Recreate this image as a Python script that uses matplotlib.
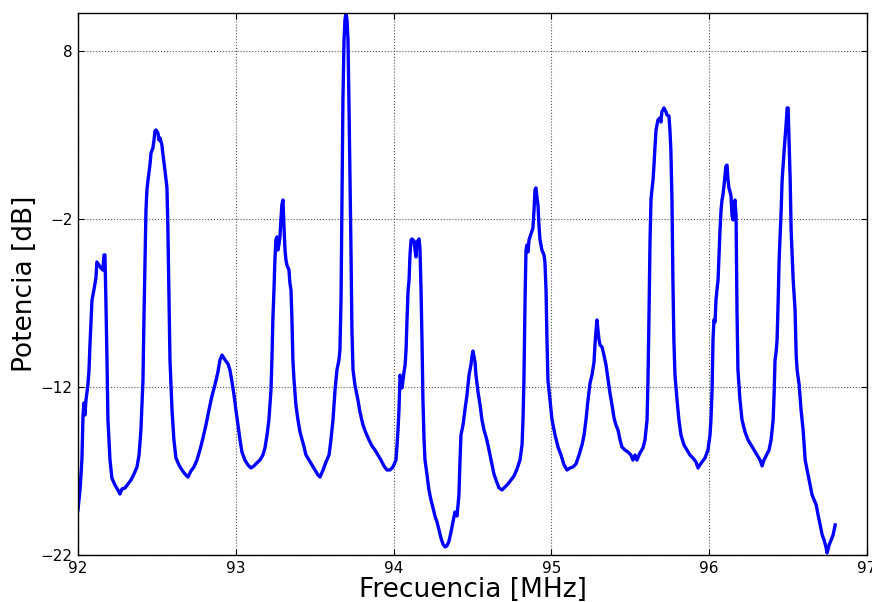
import matplotlib
matplotlib.use("Agg")
import matplotlib.pyplot as plt

freq_mhz = [
    92.000, 92.013, 92.025, 92.032, 92.038, 92.044, 92.051, 92.063, 92.070, 92.076,
    92.082, 92.089, 92.101, 92.114, 92.120, 92.133, 92.146, 92.158, 92.165, 92.171,
    92.177, 92.184, 92.190, 92.203, 92.215, 92.234, 92.253, 92.266, 92.279, 92.298,
    92.317, 92.336, 92.355, 92.374, 92.387, 92.399, 92.412, 92.418, 92.425, 92.431,
    92.437, 92.444, 92.456, 92.463, 92.475, 92.482, 92.488, 92.494, 92.507, 92.513,
    92.520, 92.532, 92.539, 92.551, 92.558, 92.564, 92.570, 92.577, 92.583, 92.596,
    92.608, 92.621, 92.640, 92.659, 92.678, 92.697, 92.716, 92.735, 92.754, 92.773,
    92.792, 92.811, 92.830, 92.849, 92.868, 92.887, 92.900, 92.913, 92.932, 92.951,
    92.963, 92.976, 92.989, 93.001, 93.014, 93.027, 93.039, 93.058, 93.077, 93.096,
    93.115, 93.134, 93.153, 93.172, 93.185, 93.198, 93.210, 93.223, 93.229, 93.235,
    93.242, 93.248, 93.254, 93.261, 93.267, 93.273, 93.280, 93.286, 93.292, 93.299,
    93.305, 93.312, 93.318, 93.324, 93.337, 93.343, 93.350, 93.356, 93.362, 93.369,
    93.381, 93.394, 93.407, 93.426, 93.445, 93.464, 93.483, 93.502, 93.521, 93.534,
    93.553, 93.572, 93.591, 93.603, 93.616, 93.629, 93.641, 93.654, 93.660, 93.667,
    93.673, 93.679, 93.686, 93.692, 93.698, 93.705, 93.711, 93.717, 93.724, 93.730,
    93.736, 93.743, 93.755, 93.774, 93.787, 93.806, 93.825, 93.844, 93.863, 93.882,
    93.901, 93.920, 93.939, 93.958, 93.977, 93.996, 94.015, 94.022, 94.028, 94.034,
    94.041, 94.047, 94.053, 94.060, 94.066, 94.073, 94.079, 94.085, 94.092, 94.098,
    94.104, 94.111, 94.117, 94.130, 94.136, 94.142, 94.149, 94.161, 94.167, 94.174,
    94.180, 94.186, 94.193, 94.199, 94.212, 94.224, 94.237, 94.250, 94.262, 94.275,
    94.288, 94.300, 94.313, 94.326, 94.338, 94.351, 94.364, 94.376, 94.389, 94.402,
    94.414, 94.421, 94.427, 94.440, 94.452, 94.465, 94.478, 94.490, 94.497, 94.503,
    94.516, 94.522, 94.535, 94.548, 94.560, 94.573, 94.586, 94.598, 94.611, 94.624,
    94.636, 94.649, 94.668, 94.687, 94.706, 94.725, 94.744, 94.763, 94.782, 94.801,
    94.814, 94.820, 94.826, 94.833, 94.839, 94.845, 94.852, 94.858, 94.871, 94.883,
    94.890, 94.896, 94.902, 94.909, 94.915, 94.921, 94.928, 94.940, 94.953, 94.959,
    94.966, 94.972, 94.978, 94.991, 95.004, 95.023, 95.042, 95.061, 95.080, 95.099,
    95.118, 95.137, 95.156, 95.175, 95.194, 95.207, 95.219, 95.232, 95.245, 95.257,
    95.270, 95.276, 95.283, 95.289, 95.295, 95.302, 95.308, 95.321, 95.333, 95.346,
    95.359, 95.371, 95.384, 95.397, 95.409, 95.422, 95.435, 95.447, 95.466, 95.485,
    95.504, 95.517, 95.530, 95.542, 95.561, 95.580, 95.593, 95.606, 95.612, 95.618,
    95.625, 95.631, 95.637, 95.644, 95.650, 95.656, 95.663, 95.675, 95.688, 95.694,
    95.700, 95.713, 95.726, 95.732, 95.745, 95.751, 95.757, 95.764, 95.770, 95.776,
    95.783, 95.796, 95.808, 95.821, 95.840, 95.859, 95.878, 95.897, 95.916, 95.929,
    95.941, 95.954, 95.973, 95.992, 96.005, 96.011, 96.018, 96.024, 96.030, 96.037,
    96.043, 96.049, 96.056, 96.062, 96.068, 96.075, 96.081, 96.087, 96.094, 96.100,
    96.106, 96.113, 96.119, 96.125, 96.132, 96.138, 96.144, 96.151, 96.157, 96.163,
    96.170, 96.176, 96.182, 96.195, 96.208, 96.227, 96.246, 96.265, 96.284, 96.303,
    96.322, 96.335, 96.347, 96.360, 96.379, 96.392, 96.405, 96.411, 96.417, 96.424,
    96.430, 96.437, 96.443, 96.456, 96.462, 96.475, 96.487, 96.494, 96.500, 96.506,
    96.513, 96.519, 96.532, 96.544, 96.551, 96.557, 96.570, 96.582, 96.595, 96.608,
    96.627, 96.640, 96.652, 96.665, 96.678, 96.690, 96.703, 96.716, 96.728, 96.741,
    96.747, 96.760, 96.772, 96.785, 96.798,
]

power_db = [
    -19.32, -18.13, -16.35, -13.67, -12.95, -13.67, -12.77, -11.88, -10.99, -9.50,
    -8.31, -6.82, -6.23, -5.51, -4.56, -4.74, -4.92, -5.04, -4.14, -4.14,
    -6.82, -10.39, -13.96, -16.35, -17.42, -17.83, -18.13, -18.37, -18.07, -18.01,
    -17.77, -17.54, -17.18, -16.76, -16.05, -14.56, -11.58, -8.01, -4.44, -1.46,
    -0.27, 0.32, 1.21, 1.93, 2.23, 2.70, 3.24, 3.30, 3.12, 2.70,
    2.82, 2.40, 1.81, 0.92, 0.32, -0.15, -2.65, -6.82, -10.39, -13.37,
    -15.15, -16.23, -16.64, -16.94, -17.18, -17.36, -17.00, -16.76, -16.35, -15.75,
    -15.04, -14.26, -13.37, -12.54, -11.88, -11.11, -10.39, -10.10, -10.39, -10.63,
    -10.99, -11.70, -12.48, -13.37, -14.26, -15.15, -15.87, -16.35, -16.64, -16.82,
    -16.70, -16.52, -16.35, -16.05, -15.63, -14.86, -13.96, -12.18, -10.39, -8.01,
    -6.23, -4.44, -3.25, -3.07, -3.85, -3.55, -3.07, -2.06, -1.17, -0.87,
    -2.36, -3.85, -4.44, -4.74, -5.04, -5.81, -6.23, -8.01, -10.39, -11.58,
    -13.07, -13.96, -14.68, -15.33, -16.05, -16.35, -16.64, -16.94, -17.24, -17.36,
    -16.94, -16.46, -16.05, -15.15, -13.96, -12.18, -10.99, -10.39, -9.80, -6.82,
    -0.87, 5.08, 8.65, 9.85, 10.26, 9.85, 8.65, 5.08, 0.32, -3.85,
    -8.61, -10.99, -11.88, -12.77, -13.49, -14.26, -14.74, -15.15, -15.51, -15.75,
    -16.05, -16.35, -16.70, -16.94, -16.94, -16.76, -16.35, -15.45, -14.56, -13.37,
    -11.29, -11.58, -12.06, -11.58, -11.11, -10.69, -9.80, -8.01, -6.23, -5.63,
    -4.14, -3.25, -3.19, -3.31, -3.85, -4.26, -3.37, -3.19, -3.73, -6.23,
    -9.20, -12.77, -15.15, -16.35, -17.24, -18.13, -18.73, -19.20, -19.68, -20.04,
    -20.51, -20.99, -21.35, -21.52, -21.46, -21.17, -20.63, -20.04, -19.44, -19.68,
    -18.43, -16.35, -14.86, -14.26, -13.37, -12.48, -11.29, -10.69, -10.15, -9.86,
    -10.51, -11.29, -12.30, -13.07, -13.96, -14.56, -14.98, -15.45, -16.05, -16.64,
    -17.18, -17.54, -18.01, -18.13, -17.95, -17.77, -17.54, -17.30, -16.88, -16.35,
    -15.45, -13.96, -11.58, -6.82, -3.85, -3.55, -3.96, -3.25, -2.89, -2.54,
    -1.46, -0.27, -0.15, -0.75, -1.17, -2.36, -3.25, -3.85, -4.14, -4.56,
    -6.23, -9.20, -11.58, -12.77, -13.96, -14.86, -15.57, -16.05, -16.64, -16.94,
    -16.82, -16.76, -16.58, -16.05, -15.45, -14.86, -13.96, -12.77, -11.76, -11.29,
    -10.51, -9.50, -8.61, -8.01, -8.61, -9.20, -9.50, -9.62, -10.10, -10.69,
    -11.58, -12.36, -13.07, -13.85, -14.26, -14.56, -15.15, -15.57, -15.75, -15.87,
    -16.05, -16.35, -16.05, -16.35, -15.93, -15.63, -15.15, -13.96, -11.58, -8.01,
    -3.25, -0.87, -0.27, 0.32, 1.21, 2.23, 3.30, 3.89, 4.01, 3.77,
    4.37, 4.61, 4.37, 4.19, 4.13, 3.30, 2.11, -0.87, -5.63, -9.20,
    -11.29, -12.77, -13.96, -14.86, -15.45, -15.75, -16.05, -16.23, -16.46, -16.82,
    -16.64, -16.46, -16.23, -15.75, -14.86, -13.96, -12.18, -9.20, -8.01, -8.13,
    -6.82, -6.23, -5.63, -4.14, -2.77, -1.46, -0.87, -0.57, 0.02, 0.62,
    1.15, 1.21, 0.32, -0.15, -0.39, -0.63, -1.76, -2.06, -1.17, -0.87,
    -1.76, -7.42, -10.99, -12.77, -13.96, -14.68, -15.15, -15.45, -15.75, -16.05,
    -16.35, -16.70, -16.35, -16.11, -15.75, -15.15, -13.96, -12.48, -10.39, -9.92,
    -9.20, -6.82, -4.44, -1.46, 0.32, 2.11, 3.60, 4.61, 4.61, 2.70,
    0.32, -2.65, -5.63, -7.42, -10.10, -10.99, -11.88, -13.37, -14.56, -16.35,
    -17.24, -17.83, -18.43, -18.73, -19.02, -19.62, -20.21, -20.81, -21.11, -21.58,
    -21.88, -21.40, -21.11, -20.81, -20.21,
]

x_ticks = [92, 93, 94, 95, 96, 97]
y_ticks = [8, -2, -12, -22]
x_label = "Frecuencia [MHz]"
y_label = "Potencia [dB]"

plt.rcParams["axes.unicode_minus"] = True
plt.rcParams["font.family"] = ["DejaVu Sans"]

fig = plt.figure(figsize=(8.72, 6.02), dpi=100, facecolor="white")
ax = fig.add_axes([0.0894, 0.0781, 0.9049, 0.9003])

ax.plot(freq_mhz, power_db, color="#0000ff", linewidth=2.4)

ax.set_xlim(92, 97)
ax.set_ylim(-22, 10.26)
ax.set_xticks(x_ticks)
ax.set_yticks(y_ticks)
ax.tick_params(direction="in", length=4, width=0.8, top=True, right=True,
               labelsize=11, colors="black", pad=4)
ax.grid(True, linestyle=":", color="#555555", linewidth=0.8)
for s in ax.spines.values():
    s.set_linewidth(1.0)
    s.set_color("black")

ax.set_xlabel(x_label, fontsize=19, labelpad=1)
ax.set_ylabel(y_label, fontsize=19, labelpad=1.5)

fig.savefig("out.png", dpi=100, facecolor="white")
